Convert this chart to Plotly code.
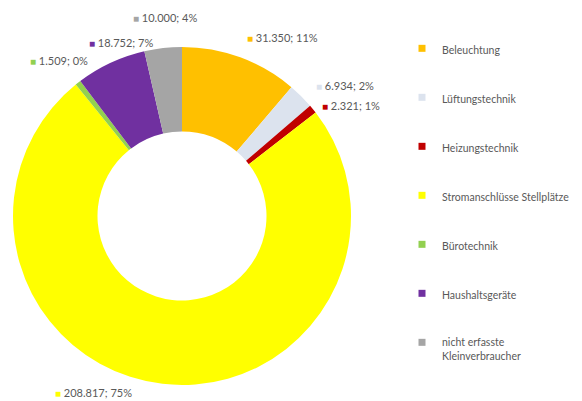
import plotly.graph_objects as go

categories = ["Beleuchtung", "Lüftungstechnik", "Heizungstechnik",
              "Stromanschlüsse Stellplätze", "Bürotechnik", "Haushaltsgeräte",
              "nicht erfasste<br>Kleinverbraucher"]
values = [31350, 6934, 2321, 208817, 1509, 18752, 10000]
value_labels = ["31.350", "6.934", "2.321", "208.817", "1.509", "18.752", "10.000"]
pct_labels = ["11%", "2%", "1%", "75%", "0%", "7%", "4%"]
colors = ["#FFC000", "#DCE3EE", "#C00000", "#FFFF00", "#92D050", "#7030A0", "#A5A5A5"]

W, H = 582, 401
# data-label anchor positions (px, left edge of the colored square / vertical centre)
label_px = [(245, 37), (314, 86), (320, 105), (53, 392), (28, 61), (87, 42), (131, 17)]

FONT = "Lato"
TXT = "#595959"

fig = go.Figure()
fig.add_trace(go.Pie(
    labels=categories, values=values, marker=dict(colors=colors, line=dict(width=0)),
    sort=False, direction="clockwise", rotation=0, hole=0.5,
    textinfo="none", showlegend=False,
    domain=dict(x=[13 / W, 351 / W], y=[1 - 385 / H, 1 - 47 / H]),
))

# legend entries
for i, (c, col) in enumerate(zip(categories, colors)):
    fig.add_trace(go.Scatter(
        x=[None], y=[None], mode="markers", name=c, legendgroup=f"g{i}",
        marker=dict(symbol="square", size=7, color=col),
    ))

for (px, py), v, p, col in zip(label_px, value_labels, pct_labels, colors):
    fig.add_annotation(
        x=px / W, y=1 - py / H, xref="paper", yref="paper",
        xanchor="left", yanchor="middle", showarrow=False,
        text=f"<span style='color:{col};font-size:10px'>■</span> {v}; {p}",
        font=dict(family=FONT, size=11, color=TXT),
    )

fig.update_layout(
    width=W, height=H, margin=dict(l=0, r=0, t=0, b=0),
    paper_bgcolor="white", plot_bgcolor="white",
    xaxis=dict(visible=False), yaxis=dict(visible=False),
    legend=dict(x=402 / W, y=1 - 35 / H, xanchor="left", yanchor="top",
                font=dict(family=FONT, size=10.5, color=TXT),
                tracegroupgap=30, itemwidth=30, valign="top",
                bgcolor="rgba(0,0,0,0)"),
    font=dict(family=FONT, color=TXT),
)
fig.write_html("out.html", config={"displayModeBar": False},
               post_script="document.body.style.margin='0';document.body.style.overflow='hidden';")
